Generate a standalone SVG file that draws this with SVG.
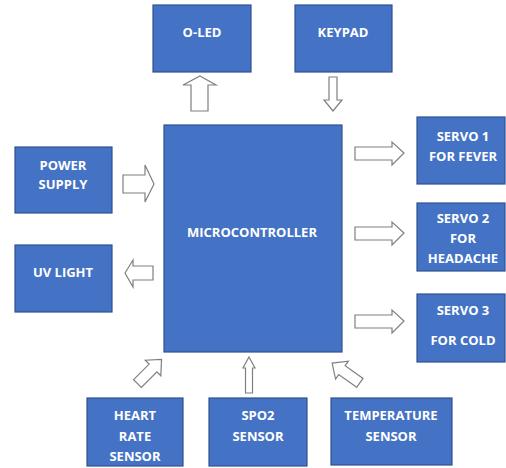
<svg xmlns="http://www.w3.org/2000/svg" width="506" height="468" viewBox="0 0 506 468">
<style>
.box{fill:#4472C4;stroke:#2F528F;stroke-width:1.2}
.t{fill:#fff;font-family:"Open Sans","Liberation Sans",sans-serif;font-weight:bold;font-size:13px;text-anchor:middle;dominant-baseline:central}
.ar{fill:#fff;stroke:#7f7f7f;stroke-width:1.2;stroke-linejoin:miter}
</style>
<rect width="506" height="468" fill="#fff"/>
<g id="connectors">
<polygon class="ar" points="200,76 216,85 208,85 208,111 191,111 191,85 183,85"/>
<polygon class="ar" points="329,77 337,77 337,100 342,100 333,111 324,100 329,100"/>
<polygon class="ar" points="123,175 145,175 145,165 154,184 145,202 145,193 123,193"/>
<polygon class="ar" points="125,273 133,260 133,266 153,266 153,280 133,280 133,287"/>
<polygon class="ar" points="355,147 392,147 392,142 404,153 392,165 392,160 355,160"/>
<polygon class="ar" points="355,227 392,227 392,222 404,233 392,245 392,240 355,240"/>
<polygon class="ar" points="355,315 392,315 392,310 404,321 392,333 392,328 355,328"/>
<polygon class="ar" points="249,357 255,368 252.5,368 252.5,393 245.5,393 245.5,368 243,368"/>
<polygon class="ar" transform="translate(149.5,371.5) rotate(-45)" points="-17,-5.5 5,-5.5 5,-11 17,0 5,11 5,5.5 -17,5.5"/>
<polygon class="ar" transform="translate(346,373) rotate(-144.5)" points="-17,-5.5 5,-5.5 5,-11 17,0 5,11 5,5.5 -17,5.5"/>
</g>
<g id="oled"><rect class="box" x="153" y="5" width="98" height="67"/><text class="t" x="202" y="32">O-LED</text></g>
<g id="keypad"><rect class="box" x="295" y="5" width="97" height="67"/><text class="t" x="343" y="32">KEYPAD</text></g>
<g id="microcontroller"><rect class="box" x="164" y="125" width="178" height="227"/><text class="t" x="252" y="232">MICROCONTROLLER</text></g>
<g id="power"><rect class="box" x="15" y="147" width="97" height="66"/><text class="t" x="63" y="165">POWER</text><text class="t" x="63" y="184">SUPPLY</text></g>
<g id="uvlight"><rect class="box" x="15" y="245" width="97" height="67"/><text class="t" x="63" y="272">UV LIGHT</text></g>
<g id="servo1"><rect class="box" x="417" y="117" width="88" height="67"/><text class="t" x="463" y="136">SERVO 1</text><text class="t" x="463" y="156">FOR FEVER</text></g>
<g id="servo2"><rect class="box" x="417" y="203" width="88" height="68"/><text class="t" x="463" y="218">SERVO 2</text><text class="t" x="463" y="238">FOR</text><text class="t" x="463" y="258">HEADACHE</text></g>
<g id="servo3"><rect class="box" x="417" y="294" width="88" height="68"/><text class="t" x="463" y="310">SERVO 3</text><text class="t" x="463" y="340">FOR COLD</text></g>
<g id="heartrate"><rect class="box" x="87" y="398" width="96" height="68"/><text class="t" x="135" y="415">HEART</text><text class="t" x="135" y="436">RATE</text><text class="t" x="135" y="456">SENSOR</text></g>
<g id="spo2"><rect class="box" x="209" y="398" width="98" height="68"/><text class="t" x="258" y="415">SPO2</text><text class="t" x="258" y="436">SENSOR</text></g>
<g id="temperature"><rect class="box" x="331" y="398" width="121" height="67"/><text class="t" x="391" y="415">TEMPERATURE</text><text class="t" x="391" y="436">SENSOR</text></g>
</svg>
